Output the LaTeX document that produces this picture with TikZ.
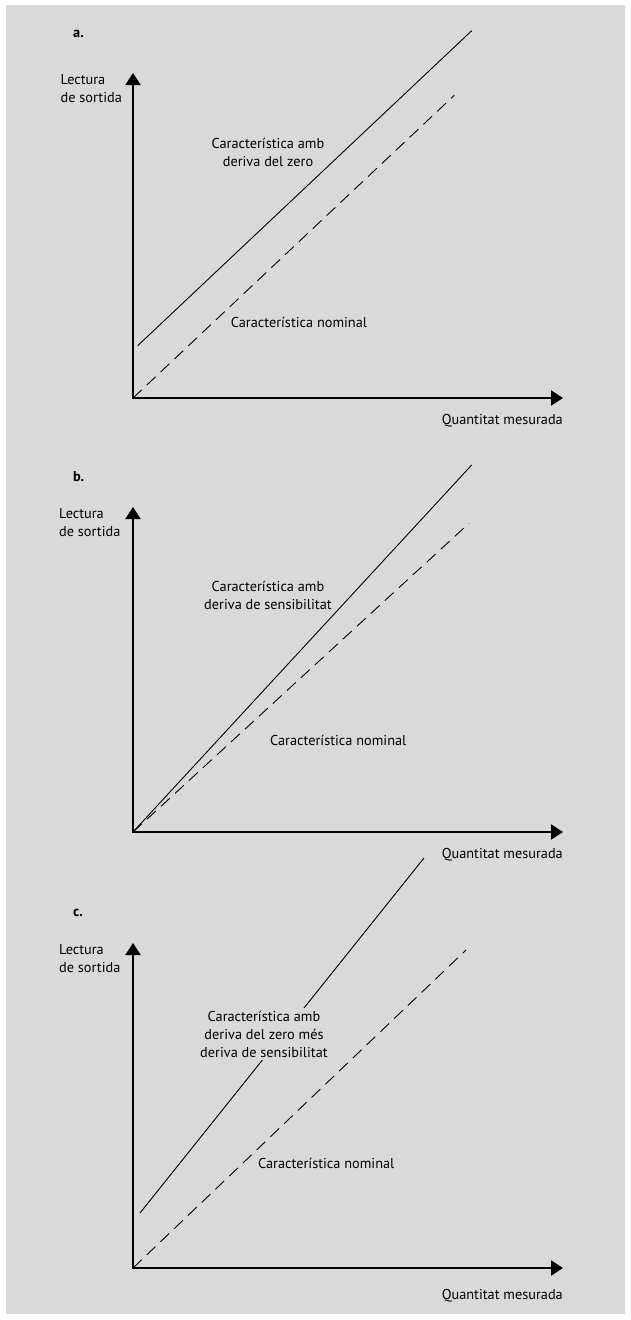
\documentclass[tikz,border=0pt]{standalone}
\usepackage{fontspec}
\setmainfont{PT Sans}
\usetikzlibrary{arrows.meta}
\begin{document}
\begin{tikzpicture}[x=1pt,y=-1pt,
  axes/.style={line width=2pt,{Triangle[length=12pt,width=15pt]}-{Triangle[length=12pt,width=15pt]}},
  drift/.style={line width=0.9pt},
  nominal/.style={line width=0.9pt,dash pattern=on 12pt off 7pt},
  lbl/.style={font=\fontsize{14.3}{18}\selectfont,inner sep=0pt},
  tag/.style={font=\fontsize{14.3}{18}\selectfont\bfseries,inner sep=0pt,anchor=west}]
\useasboundingbox (0,0) rectangle (631,1320);
\fill[white] (0,0) rectangle (631,1320);
\fill[black!15] (6,5) rectangle (625,1314);

% ---- panel a
\coordinate (oa) at (133,398);
\coordinate (ya) at (133,73);
\coordinate (xa) at (563,398);
\draw[axes] (ya) -- (oa) -- (xa);
\coordinate (sa0) at (137.7,345.7);
\coordinate (sa1) at (471.7,30.7);
\coordinate (da1) at (454.3,95.3);
\draw[drift] (sa0) -- (sa1);
\draw[nominal] (oa) -- (da1);
\node[tag] (ta) at (73,34) {a.};
\node[lbl,anchor=west,align=left] (yla) at (60.5,89) {Lectura\\de sortida};
\node[lbl,align=center] (cla) at (268,152) {Característica amb\\deriva del zero};
\node[lbl,anchor=west] (nla) at (230.7,322.7) {Característica nominal};
\node[lbl,anchor=east] (xla) at (563,421) {Quantitat mesurada};

% ---- panel b
\coordinate (ob) at (133,832);
\coordinate (yb) at (133,507);
\coordinate (xb) at (563,832);
\draw[axes] (yb) -- (ob) -- (xb);
\coordinate (sb1) at (471.7,465);
\coordinate (db1) at (469,523.3);
\draw[drift] (ob) -- (sb1);
\draw[nominal] (ob) -- (db1);
\node[tag] (tb) at (73,477) {b.};
\node[lbl,anchor=west,align=left] (ylb) at (59,523) {Lectura\\de sortida};
\node[lbl,align=center] (clb) at (268,595) {Característica amb\\deriva de sensibilitat};
\node[lbl,anchor=west] (nlb) at (270,740) {Característica nominal};
\node[lbl,anchor=east] (xlb) at (563,855) {Quantitat mesurada};

% ---- panel c
\coordinate (oc) at (133,1268);
\coordinate (yc) at (133,943);
\coordinate (xc) at (563,1268);
\draw[axes] (yc) -- (oc) -- (xc);
\coordinate (sc0) at (140,1213);
\coordinate (sc1) at (424,858);
\coordinate (dc1) at (466,950);
\draw[drift] (sc0) -- (sc1);
\draw[nominal] (oc) -- (dc1);
\node[tag] (tc) at (73,913) {c.};
\node[lbl,anchor=west,align=left] (ylc) at (59,959) {Lectura\\de sortida};
\node[lbl,align=center,fill=black!15,inner sep=3pt] (clc) at (264,1034) {Característica amb\\deriva del zero més\\deriva de sensibilitat};
\node[lbl,anchor=west] (nlc) at (258,1163) {Característica nominal};
\node[lbl,anchor=east] (xlc) at (563,1296) {Quantitat mesurada};
\end{tikzpicture}
\end{document}
